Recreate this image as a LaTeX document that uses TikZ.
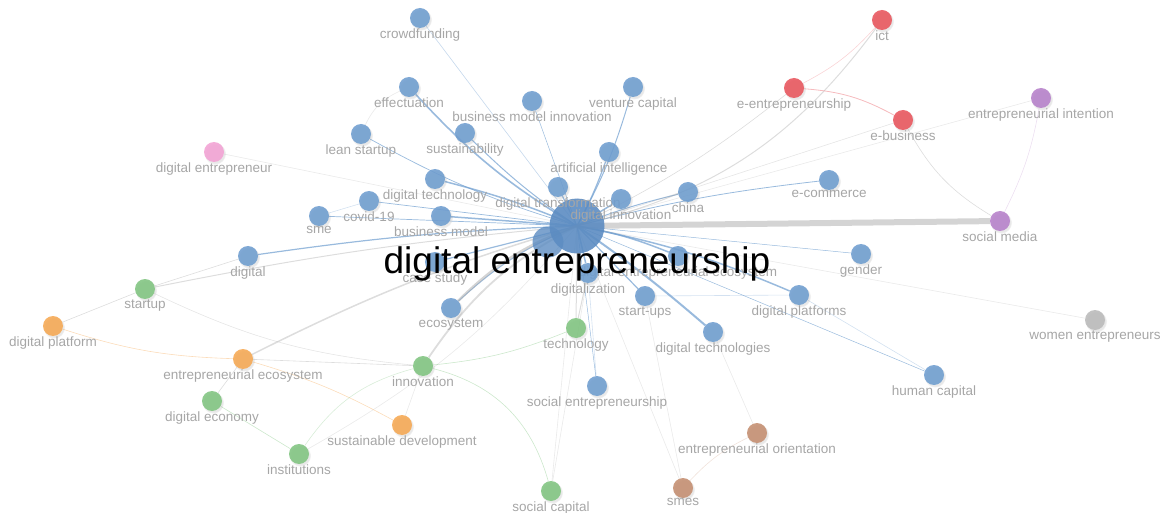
\documentclass[tikz,border=0pt]{standalone}
\usepackage{fontspec}
\setmainfont{Liberation Sans}
\usepackage{xcolor}
\usetikzlibrary{backgrounds,shadows}

\definecolor{kwblue}{RGB}{110,157,207}
\definecolor{kwhub}{RGB}{92,140,194}
\definecolor{kwred}{RGB}{232,84,92}
\definecolor{kwpurple}{RGB}{182,128,202}
\definecolor{kwpink}{RGB}{242,162,212}
\definecolor{kwgreen}{RGB}{128,196,128}
\definecolor{kworange}{RGB}{246,168,82}
\definecolor{kwbrown}{RGB}{196,142,112}
\definecolor{kwgrey}{RGB}{186,186,186}
\definecolor{kwlabel}{RGB}{166,166,166}
\definecolor{kwline}{RGB}{170,170,170}

\begin{document}
\begin{tikzpicture}[
  x=1pt, y=-1pt,
  dot/.style={circle,fill=#1,fill opacity=0.88,minimum size=20pt,inner sep=0pt,
              circular drop shadow={shadow xshift=1pt,shadow yshift=-1.5pt,opacity=0.18}},
  every label/.style={text=kwlabel,font=\fontsize{13.5}{14}\selectfont,inner sep=0pt},
  label distance=0pt,
  link/.style={draw=#1,opacity=0.4,line width=0.6pt},
  spoke/.style={draw=kwblue,opacity=0.7,line width=#1}
]
\useasboundingbox (0,0) rectangle (1162,513);

% hub
\node[circle,fill=kwhub,fill opacity=0.9,minimum size=55pt,inner sep=0pt] (hub) at (577,226) {};
\node[circle,fill=kwhub,fill opacity=0.8,minimum size=31pt,inner sep=0pt] (hubb) at (548,242) {};

% blue cluster
\node[dot=kwblue,label={below:crowdfunding}] (crowdfunding) at (420,18) {};
\node[dot=kwblue,label={below:effectuation}] (effectuation) at (409,87) {};
\node[dot=kwblue,label={below:venture capital}] (venturecap) at (633,87) {};
\node[dot=kwblue,label={below:business model innovation}] (bmi) at (532,101) {};
\node[dot=kwblue,label={below:lean startup}] (leanstartup) at (361,134) {};
\node[dot=kwblue,label={below:sustainability}] (sustainability) at (465,133) {};
\node[dot=kwblue,label={below:artificial intelligence}] (ai) at (609,152) {};
\node[dot=kwblue,label={below:digital technology}] (digtechnology) at (435,179) {};
\node[dot=kwblue,label={below:digital transformation}] (digtransformation) at (558,187) {};
\node[dot=kwblue,label={below:digital innovation}] (diginnovation) at (621,199) {};
\node[dot=kwblue,label={below:china}] (china) at (688,192) {};
\node[dot=kwblue,label={below:e-commerce}] (ecommerce) at (829,180) {};
\node[dot=kwblue,label={below:covid-19}] (covid) at (369,201) {};
\node[dot=kwblue,label={below:sme}] (sme) at (319,216) {};
\node[dot=kwblue,label={below:business model}] (businessmodel) at (441,216) {};
\node[dot=kwblue,label={below:digital}] (digital) at (248,256) {};
\node[dot=kwblue,label={below:case study}] (casestudy) at (435,262) {};
\node[dot=kwblue,label={below:gender}] (gender) at (861,254) {};
\node[dot=kwblue,label={below:digital entrepreneurial ecosystem}] (dee) at (678,256) {};
\node[dot=kwblue,label={below:digitalization}] (digitalization) at (588,273) {};
\node[dot=kwblue,label={below:digital platforms}] (digplatforms) at (799,295) {};
\node[dot=kwblue,label={below:start-ups}] (startups) at (645,296) {};
\node[dot=kwblue,label={below:ecosystem}] (ecosystem) at (451,308) {};
\node[dot=kwblue,label={below:digital technologies}] (digtechnologies) at (713,332) {};
\node[dot=kwblue,label={below:human capital}] (humancap) at (934,375) {};
\node[dot=kwblue,label={below:social entrepreneurship}] (socialent) at (597,386) {};

% red, purple, pink, grey
\node[dot=kwred,label={below:ict}] (ict) at (882,20) {};
\node[dot=kwred,label={below:e-entrepreneurship}] (eentre) at (794,88) {};
\node[dot=kwred,label={below:e-business}] (ebusiness) at (903,120) {};
\node[dot=kwpurple,label={below:entrepreneurial intention}] (entintention) at (1041,98) {};
\node[dot=kwpurple,label={below:social media}] (socialmedia) at (1000,221) {};
\node[dot=kwpink,label={below:digital entrepreneur}] (digentrepreneur) at (214,152) {};
\node[dot=kwgrey,label={below:women entrepreneurs}] (women) at (1095,320) {};

% green, orange, brown
\node[dot=kwgreen,label={below:startup}] (startup) at (145,289) {};
\node[dot=kwgreen,label={below:technology}] (technology) at (576,328) {};
\node[dot=kwgreen,label={below:innovation}] (innovation) at (423,366) {};
\node[dot=kwgreen,label={below:digital economy}] (digeconomy) at (212,401) {};
\node[dot=kwgreen,label={below:institutions}] (institutions) at (299,454) {};
\node[dot=kwgreen,label={below:social capital}] (socialcap) at (551,491) {};
\node[dot=kworange,label={below:digital platform}] (digplatform) at (53,326) {};
\node[dot=kworange,label={below:entrepreneurial ecosystem}] (entecosystem) at (243,359) {};
\node[dot=kworange,label={below:sustainable development}] (susdev) at (402,425) {};
\node[dot=kwbrown,label={below:entrepreneurial orientation}] (entorientation) at (757,433) {};
\node[dot=kwbrown,label={below:smes}] (smes) at (683,488) {};

\node[font=\fontsize{37}{37}\selectfont,text=black,inner sep=0pt] (hublabel) at (577,264) {digital entrepreneurship};

\begin{scope}[on background layer]
% spokes from the hub
\draw[spoke=1.6pt] (hub.center) to[bend left=8] (effectuation);
\draw[spoke=1pt] (hub.center) to[bend left=5] (sustainability);
\draw[spoke=0.7pt] (hub.center) to[bend left=6] (leanstartup);
\draw[spoke=1.5pt] (hub.center) to[bend right=4] (digtechnology);
\draw[spoke=1.5pt] (hub.center) -- (businessmodel);
\draw[spoke=0.7pt] (hub.center) -- (covid);
\draw[spoke=0.7pt] (hub.center) -- (sme);
\draw[spoke=1.2pt] (hub.center) to[bend right=3] (digital);
\draw[spoke=1.2pt] (hub.center) -- (casestudy);
\draw[spoke=1.2pt] (hub.center) -- (digtransformation);
\draw[spoke=1.5pt] (hub.center) -- (diginnovation);
\draw[spoke=1.2pt] (hub.center) to[bend right=4] (ai);
\draw[spoke=1pt] (hub.center) to[bend right=6] (venturecap);
\draw[spoke=0.5pt] (hub.center) -- (bmi);
\draw[spoke=1pt] (hub.center) to[bend left=4] (china);
\draw[spoke=0.8pt] (hub.center) to[bend left=4] (ecommerce);
\draw[spoke=0.5pt] (hub.center) -- (gender);
\draw[spoke=1.5pt] (hub.center) to[bend left=6] (dee);
\draw[spoke=1.5pt] (hub.center) to[bend left=6] (digplatforms);
\draw[spoke=1.2pt] (hub.center) -- (startups);
\draw[spoke=2pt] (hub.center) to[bend left=3] (digtechnologies);
\draw[spoke=1.5pt] (hub.center) -- (digitalization);
\draw[spoke=1pt] (hub.center) to[bend right=10] (ecosystem);
\draw[spoke=0.5pt] (hub.center) -- (socialent);
\draw[spoke=0.5pt] (hub.center) -- (humancap);
\draw[link=kwblue] (hub.center) -- (crowdfunding);

% grey links from the hub
\draw[link=kwline,line width=6pt,opacity=0.5] (hub.center) -- (socialmedia);
\draw[link=kwline,line width=2.5pt,opacity=0.5] (hub.center) to[bend right=12] (ecosystem);
\draw[link=kwline,line width=1.8pt] (hub.center) to[bend right=14] (innovation);
\draw[link=kwline,line width=1pt] (hub.center) to[bend right=20] (ict);
\draw[link=kwline] (hub.center) to[bend right=6] (eentre);
\draw[link=kwline,opacity=0.3] (hub.center) -- (ebusiness);
\draw[link=kwline,opacity=0.25] (hub.center) -- (entintention);
\draw[link=kwline,opacity=0.25] (hub.center) -- (women);
\draw[link=kwline,line width=1pt] (hub.center) to[bend right=3] (startup);
\draw[link=kwline,line width=1.5pt] (hub.center) to[bend right=5] (entecosystem);
\draw[link=kwline,line width=1pt] (hub.center) -- (technology);
\draw[link=kwline,opacity=0.25] (hub.center) -- (digentrepreneur);
\draw[link=kwline,opacity=0.25] (hub.center) -- (smes);
\draw[link=kwline,opacity=0.25] (hub.center) -- (socialcap);
\draw[link=kwline,opacity=0.25] (hub.center) to[bend left=10] (institutions);

% other links
\draw[link=kwline] (digital) -- (startup);
\draw[link=kwline] (startup) -- (digplatform);
\draw[link=kworange] (digplatform) to[bend right=8] (entecosystem);
\draw[link=kwline] (entecosystem) -- (innovation);
\draw[link=kworange] (entecosystem) to[bend left=6] (susdev);
\draw[link=kwline] (entecosystem) -- (digeconomy);
\draw[link=kwgreen] (digeconomy) -- (institutions);
\draw[link=kwgreen] (innovation) to[bend left=30] (socialcap);
\draw[link=kwgreen] (innovation) to[bend right=8] (technology);
\draw[link=kwline,opacity=0.25] (innovation) -- (susdev);
\draw[link=kwgreen,opacity=0.3] (innovation) to[bend right=20] (institutions);
\draw[link=kwline,opacity=0.3] (startup) to[bend right=10] (innovation);
\draw[link=kwred,line width=0.8pt] (eentre) to[bend left=12] (ebusiness);
\draw[link=kwred,opacity=0.25] (eentre) to[bend right=10] (ict);
\draw[link=kwline] (ebusiness) to[bend right=15] (socialmedia);
\draw[link=kwpurple,opacity=0.25] (entintention) to[bend left=8] (socialmedia);
\draw[link=kwbrown,opacity=0.25] (smes) to[bend left=10] (entorientation);
\draw[link=kwline,opacity=0.25] (entorientation) -- (digtechnologies);
\draw[link=kwblue,opacity=0.3] (startups) -- (digplatforms);
\draw[link=kwblue,opacity=0.3] (digplatforms) -- (humancap);
\draw[link=kwline,opacity=0.25] (leanstartup) to[bend left=20] (effectuation);
\draw[link=kwblue,opacity=0.3] (sme) -- (covid);
\draw[link=kwline,opacity=0.25] (socialcap) -- (digitalization);
\draw[link=kwline,opacity=0.25] (smes) -- (startups);
\draw[link=kwline,line width=1pt] (technology) -- (digitalization);
\draw[link=kwblue,opacity=0.3] (socialent) -- (digitalization);
\end{scope}
\end{tikzpicture}
\end{document}
